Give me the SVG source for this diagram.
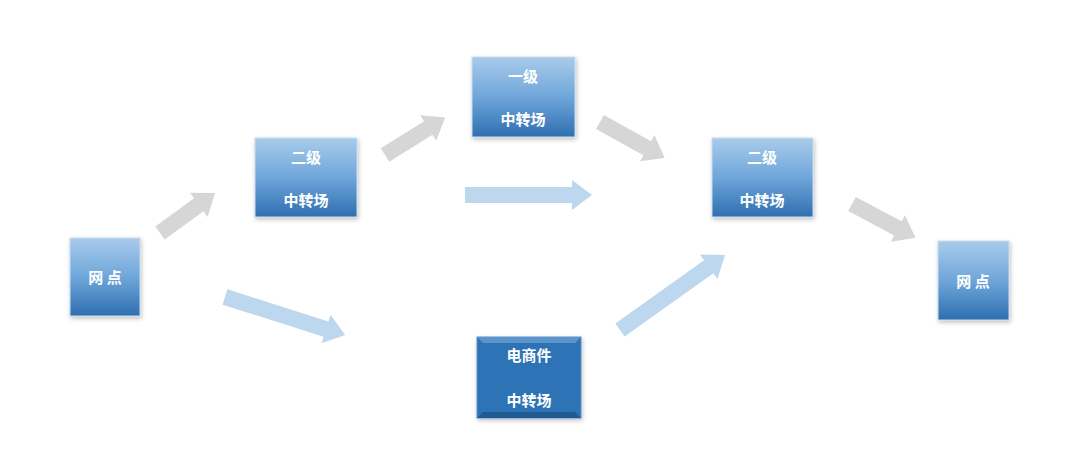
<svg xmlns="http://www.w3.org/2000/svg" width="1080" height="466" viewBox="0 0 1080 466">
<defs>
<linearGradient id="g" x1="0" y1="0" x2="0" y2="1"><stop offset="0" stop-color="#a9cbeb"/><stop offset="0.5" stop-color="#6fa6da"/><stop offset="1" stop-color="#2e6fb0"/></linearGradient>
<filter id="s" x="-20%" y="-20%" width="140%" height="140%"><feDropShadow dx="1" dy="2" stdDeviation="2" flood-color="#000" flood-opacity="0.25"/></filter>
</defs>
<style>
.b{fill:url(#g);stroke:#c9dcef;stroke-width:1;filter:url(#s)}
.t{font-family:"Noto Sans CJK SC","Noto Sans",sans-serif;font-weight:bold;font-size:15px;fill:#fff;text-anchor:middle}
.gr{fill:#d6d6d6}.lb{fill:#bcd7ee}
</style>
<rect width="1080" height="466" fill="#fff"/>
<g id="connectors">
<polygon class="gr" transform="translate(160,233) rotate(-36)" points="0,-8 48,-8 48,-15 68,0 48,15 48,8 0,8"/>
<polygon class="gr" transform="translate(385,155) rotate(-32)" points="0,-8 51,-8 51,-15 71,0 51,15 51,8 0,8"/>
<polygon class="lb" transform="translate(465,195)" points="0,-8 107,-8 107,-15 127,0 107,15 107,8 0,8"/>
<polygon class="gr" transform="translate(600,122) rotate(29)" points="0,-8 54,-8 54,-15 74,0 54,15 54,8 0,8"/>
<polygon class="gr" transform="translate(852,204) rotate(28)" points="0,-8 52,-8 52,-15 72,0 52,15 52,8 0,8"/>
<polygon class="lb" transform="translate(225,297) rotate(17.6)" points="0,-8 106,-8 106,-15 126,0 106,15 106,8 0,8"/>
<polygon class="lb" transform="translate(620,330) rotate(-35.5)" points="0,-8 109,-8 109,-15 129,0 109,15 109,8 0,8"/>
</g>
<g id="n1"><rect class="b" x="70" y="238" width="70" height="78"/><text class="t" x="105" y="283">网  点</text></g>
<g id="n2"><rect class="b" x="255" y="138" width="102" height="79"/><text class="t" x="306" y="163">二级</text><text class="t" x="306" y="206">中转场</text></g>
<g id="n3"><rect class="b" x="472" y="57" width="103" height="80"/><text class="t" x="523" y="82">一级</text><text class="t" x="523" y="125">中转场</text></g>
<g id="n4"><rect class="b" x="712" y="138" width="101" height="79"/><text class="t" x="762" y="163">二级</text><text class="t" x="762" y="206">中转场</text></g>
<g id="n5"><rect class="b" x="938" y="241" width="71" height="79"/><text class="t" x="973" y="287">网  点</text></g>
<g id="n6"><rect x="477" y="337" width="104" height="81" fill="#2f73b5" stroke="#5b93c9" filter="url(#s)"/><polygon points="477,337 581,337 575,343 483,343" fill="#5b95cc"/><polygon points="477,418 581,418 575,412 483,412" fill="#225a92"/><text class="t" x="529" y="361">电商件</text><text class="t" x="529" y="406">中转场</text></g>
</svg>
